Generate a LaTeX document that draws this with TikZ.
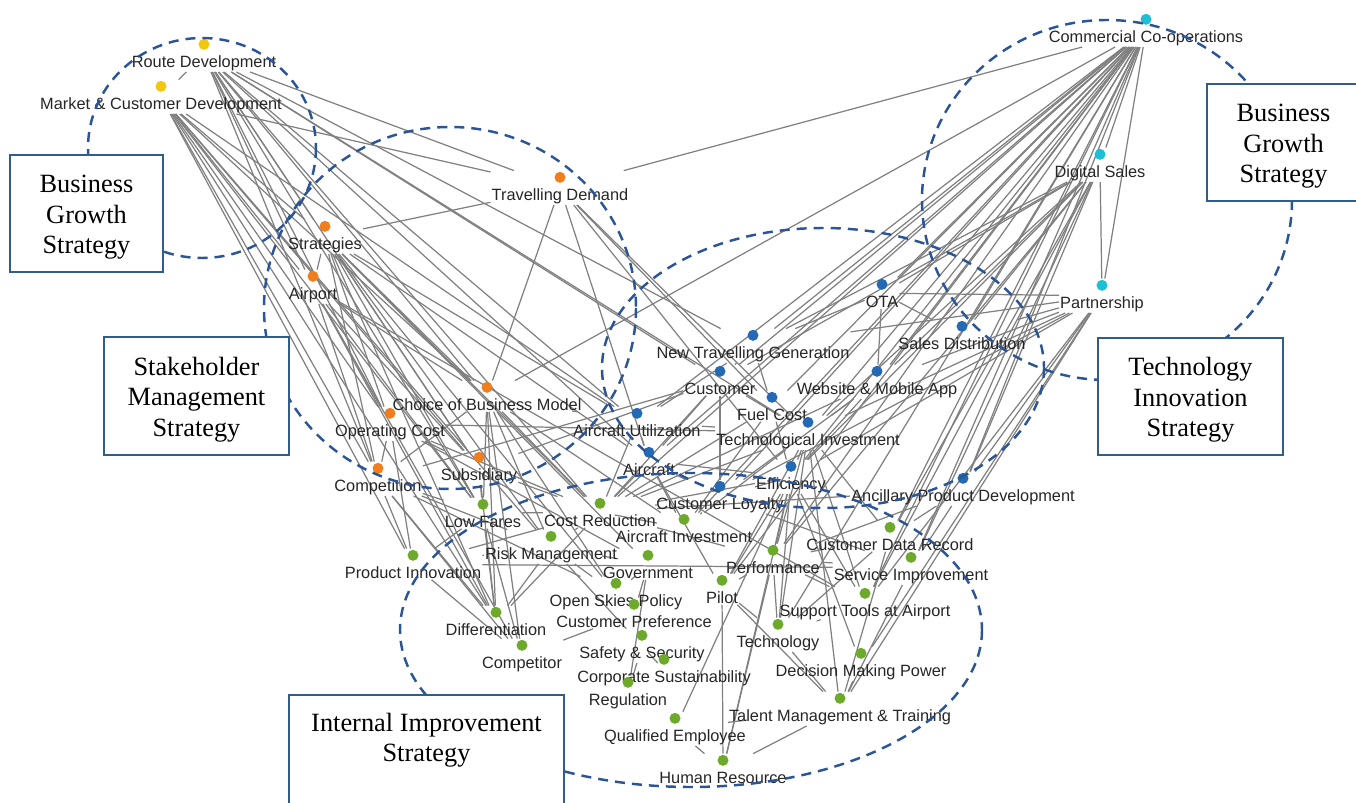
\documentclass[tikz,border=0pt]{standalone}
\usepackage{fontspec}
\setmainfont{Liberation Serif}
\newfontfamily\lblfont{Liberation Sans}
\usepackage{tikz}
\usetikzlibrary{backgrounds}
\usepackage{xcolor}

\definecolor{yel}{HTML}{F2C80F}
\definecolor{ora}{HTML}{F07E1C}
\definecolor{blu}{HTML}{2369B3}
\definecolor{cyn}{HTML}{1CC0D4}
\definecolor{grn}{HTML}{6DAA2C}
\definecolor{dashblue}{HTML}{2B5597}
\definecolor{boxblue}{HTML}{2F5D8C}
\definecolor{lgray}{HTML}{808080}

\newcommand\ndot[1]{\tikz\fill[#1] (0,0) circle (0.11cm);}

\tikzset{
  nd/.style={align=center, inner sep=0.5pt, font=\lblfont\fontsize{9.3}{11}\selectfont, text=black!85},
  link/.style={draw=lgray, line width=0.7pt},
  grp/.style={draw=dashblue, line width=1.4pt, dash pattern=on 5.7pt off 4pt},
  sbox/.style={draw=boxblue, line width=1.4pt, fill=white, align=center, inner sep=0pt, font=\fontsize{15}{17.3}\selectfont},
  sbox3/.style={sbox, text height=49pt, text depth=3.3pt}
}

\begin{document}
\begin{tikzpicture}[x=0.02cm, y=-0.02cm]
    \useasboundingbox (0,0) rectangle (1356,803);
    \clip (0,0) rectangle (1356,803);

    % 节点
    \foreach \id/\px/\py/\col/\txt in {
        rd/204/44/yel/Route Development, mcd/161/86/yel/Market \& Customer Development,
        td/560/177/ora/Travelling Demand, str/325/226/ora/Strategies, apt/313/276/ora/Airport,
        cbm/487/387/ora/Choice of Business Model, opc/390/413/ora/Operating Cost,
        sub/479/457/ora/Subsidiary, cmp/378/468/ora/Competition,
        cc/1146/19/cyn/Commercial Co-operations, ds/1100/154/cyn/Digital Sales, ps/1102/285/cyn/Partnership,
        ota/882/284/blu/OTA, sd/962/326/blu/Sales Distribution, ntg/753/335/blu/New Travelling Generation,
        cus/720/371/blu/Customer, wma/877/371/blu/Website \& Mobile App, fc/772/397/blu/Fuel Cost,
        au/637/413/blu/Aircraft Utilization, ti/808/422/blu/Technological Investment,
        ac/649/452/blu/Aircraft, eff/791/466/blu/Efficiency, cl/720/486/blu/Customer Loyalty,
        apd/963/478/blu/Ancillary Product Development,
        lf/483/504/grn/Low Fares, cr/600/503/grn/Cost Reduction, ai/684/519/grn/Aircraft Investment,
        cdr/890/527/grn/Customer Data Record, rm/551/536/grn/Risk Management, perf/773/550/grn/Performance,
        pi/413/555/grn/Product Innovation, gov/648/555/grn/Government, si/911/557/grn/Service Improvement,
        pil/722/580/grn/Pilot, osp/616/583/grn/Open Skies Policy, stp/865/593/grn/Support Tools at Airport,
        cp/634/604/grn/Customer Preference, diff/496/612/grn/Differentiation, tech/778/624/grn/Technology,
        ss/642/635/grn/Safety \& Security, comp/522/645/grn/Competitor, dmp/861/653/grn/Decision Making Power,
        csus/664/659/grn/Corporate Sustainability, reg/628/682/grn/Regulation,
        tmt/840/698/grn/Talent Management \& Training, qe/675/718/grn/Qualified Employee,
        hr/723/760/grn/Human Resource} {
        \node[nd, anchor=north] (\id) at (\px,{\py-6.4}) {\ndot{\col}\\[-1pt]\txt};
    }

    % 连线
    \begin{pgfonlayer}{background}
    \foreach \a/\b in {
        rd/mcd, rd/td, rd/str, rd/apt, rd/opc, rd/cmp, rd/cbm, rd/sub, rd/au, rd/cus, rd/ntg, rd/ac, rd/lf, rd/cr, rd/ti,
        mcd/td, mcd/str, mcd/apt, mcd/opc, mcd/cmp, mcd/cbm, mcd/sub, mcd/lf, mcd/pi, mcd/diff, mcd/rm, mcd/au,
        td/str, td/cc, td/cbm, td/fc, td/ti, td/eff, td/ac,
        str/apt, str/opc, str/cmp, str/cbm, str/sub, str/lf, str/au, str/ac, str/cr, str/rm, str/gov, str/diff, str/osp,
        apt/opc, apt/cmp, apt/cbm, apt/lf, apt/diff, apt/comp, apt/sub, apt/stp,
        cbm/cc, cbm/lf, cbm/diff, cbm/cr, cbm/rm, cbm/osp, cbm/comp, cbm/au, cbm/ai, cbm/cmp,
        opc/cmp, opc/ti, opc/cr, opc/sub, opc/gov, opc/pi,
        sub/lf, sub/diff, sub/cus, sub/cr,
        cmp/cus, cmp/pi, cmp/diff, cmp/comp, cmp/rm, cmp/osp, cmp/lf,
        cc/ds, cc/ps, ds/ps, cc/ntg, cc/ota, cc/sd, cc/wma, cc/ti, cc/fc, cc/cus, cc/eff, cc/cl, cc/ac, cc/au,
        cc/apd, cc/cdr, cc/si, cc/stp, cc/perf, cc/tech, cc/cr, cc/ai, cc/pil,
        ds/ota, ds/ntg, ds/sd, ds/wma, ds/ti, ds/eff, ds/apd, ds/cdr, ds/si, ds/stp, ds/cus, ds/perf,
        ps/ota, ps/ntg, ps/sd, ps/wma, ps/ti, ps/eff, ps/apd, ps/stp, ps/dmp, ps/tmt, ps/cl,
        ota/sd, ota/wma, ota/ntg,
        ntg/cus, ntg/fc, ntg/au,
        cus/cl, cus/ac, cus/ti, cus/cr,
        wma/ti, wma/eff, wma/cr, wma/cl,
        fc/ti, fc/cr, fc/ai, fc/eff,
        au/ac, au/cr, au/ti,
        ti/eff, ti/perf, ti/tech, ti/stp, ti/tmt, ti/cdr, ti/pil, ti/cr, ti/ai,
        ac/ai, ac/cr, ac/eff, ac/pil, ac/cl,
        eff/cr, eff/perf, eff/pil, eff/tech, eff/hr, eff/stp, eff/qe, eff/dmp, eff/cl,
        cl/cr, cl/ai, cl/si,
        apd/cr, apd/perf, apd/cdr, apd/si,
        lf/diff, lf/cr, lf/pi, lf/comp,
        cr/pi, cr/diff, cr/ai, cr/perf, cr/rm,
        rm/pi, rm/diff, rm/osp, rm/ss, rm/gov,
        pi/si, pi/comp,
        gov/osp, gov/reg, gov/cp,
        perf/cdr, perf/si, perf/stp, perf/pil, perf/tech, perf/hr,
        pil/tech, pil/hr, pil/tmt,
        tech/stp, tech/tmt, tech/cdr,
        cdr/tmt, si/tmt, dmp/tmt,
        comp/cp, cp/ss, ss/reg, ss/csus,
        qe/hr, qe/tmt, hr/tmt} {
        \draw[link] (\a) -- (\b);
    }
    \end{pgfonlayer}

    % 虚线分组
    \draw[grp] (202,148) ellipse [x radius=114, y radius=110];
    \draw[grp] (450,308) ellipse [x radius=186, y radius=181];
    \draw[grp] (1107,200) ellipse [x radius=185, y radius=180];
    \draw[grp] (823,368) ellipse [x radius=221, y radius=140];
    \draw[grp] (691,630) ellipse [x radius=291, y radius=157];

    % 策略框
    \node[sbox3, minimum width=3.06cm, minimum height=2.34cm] (bgl) at (86.5,213.5) {Business\\Growth\\Strategy};
    \node[sbox3, minimum width=3.06cm, minimum height=2.34cm] (bgr) at (1283.5,142.5) {Business\\Growth\\Strategy};
    \node[sbox3, minimum width=3.7cm, minimum height=2.36cm] (smb) at (196.5,396) {Stakeholder\\Management\\Strategy};
    \node[sbox3, minimum width=3.7cm, minimum height=2.34cm] (tib) at (1190.5,396.5) {Technology\\Innovation\\Strategy};
    \node[sbox, minimum width=5.5cm, anchor=north, text height=35pt, text depth=25pt, inner ysep=3pt] (iib) at (426.5,694) {Internal Improvement\\Strategy};
\end{tikzpicture}
\end{document}
